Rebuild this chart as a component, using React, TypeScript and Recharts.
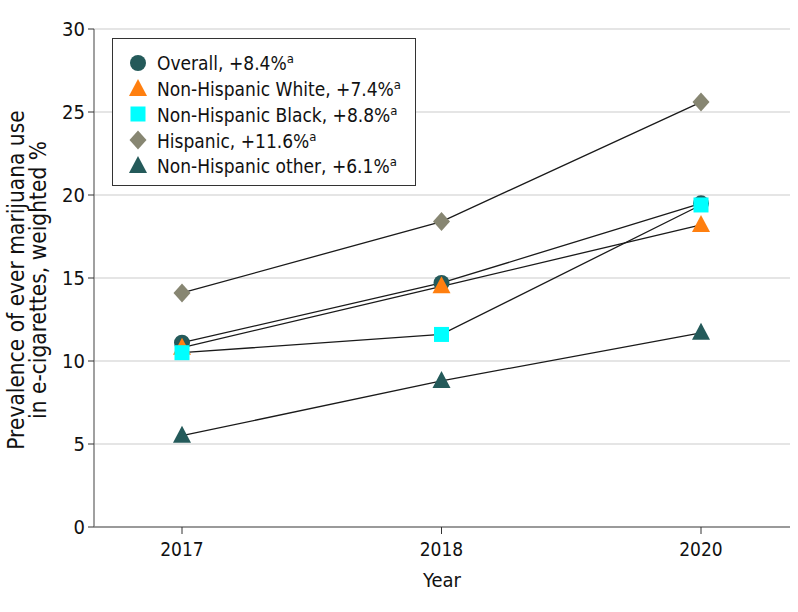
import { LineChart, Line, XAxis, YAxis, CartesianGrid } from 'recharts';

const years = ['2017', '2018', '2020'];
const overall = [11.1, 14.7, 19.5];
const white = [10.8, 14.5, 18.2];
const black = [10.5, 11.6, 19.4];
const hispanic = [14.1, 18.4, 25.6];
const other = [5.5, 8.8, 11.7];
const yTicks = [0, 5, 10, 15, 20, 25, 30];

const FONT = '"Liberation Sans Narrow", "DejaVu Sans Condensed", "Noto Sans", sans-serif';

type Shape = 'circle' | 'triangle' | 'square' | 'diamond';

const series: { key: string; name: string; change: string; color: string; shape: Shape }[] = [
  { key: 'overall', name: 'Overall', change: '8.4%', color: '#245a5a', shape: 'circle' },
  { key: 'white', name: 'Non-Hispanic White', change: '7.4%', color: '#ff7f0f', shape: 'triangle' },
  { key: 'black', name: 'Non-Hispanic Black', change: '8.8%', color: '#00ffff', shape: 'square' },
  { key: 'hispanic', name: 'Hispanic', change: '11.6%', color: '#878672', shape: 'diamond' },
  { key: 'other', name: 'Non-Hispanic other', change: '6.1%', color: '#245a5a', shape: 'triangle' },
];

const data = years.map((year, i) => ({
  year,
  overall: overall[i],
  white: white[i],
  black: black[i],
  hispanic: hispanic[i],
  other: other[i],
}));

function Marker({ cx, cy, shape, color }: { cx: number; cy: number; shape: Shape; color: string }) {
  if (shape === 'circle') return <circle cx={cx} cy={cy} r={8} fill={color} />;
  if (shape === 'square') return <rect x={cx - 7.5} y={cy - 7.5} width={15} height={15} fill={color} />;
  if (shape === 'diamond')
    return <polygon points={`${cx},${cy - 9.5} ${cx + 8.5},${cy} ${cx},${cy + 9.5} ${cx - 8.5},${cy}`} fill={color} />;
  return <polygon points={`${cx},${cy - 10} ${cx + 9},${cy + 7} ${cx - 9},${cy + 7}`} fill={color} />;
}

const makeDot = (shape: Shape, color: string) => (props: any) => {
  const { cx, cy, index } = props;
  if (cx == null || cy == null) return <g key={index} />;
  return <Marker key={index} cx={cx} cy={cy} shape={shape} color={color} />;
};

function LegendBox() {
  return (
    <div
      style={{
        position: 'absolute',
        left: 112,
        top: 38,
        border: '1.5px solid #333',
        width: 304,
        height: 148,
        boxSizing: 'border-box',
        padding: '11px 0 0 13px',
        background: '#fff',
        fontFamily: FONT,
        fontSize: 19,
        color: '#111',
      }}
    >
      {series.map((s) => (
        <div key={s.key} style={{ display: 'flex', alignItems: 'center', height: 25.8, whiteSpace: 'nowrap' }}>
          <svg width={24} height={22} style={{ marginRight: 7 }}>
            <Marker cx={12} cy={11} shape={s.shape} color={s.color} />
          </svg>
          <span>
            {s.name}, +{s.change}
            <sup style={{ fontSize: 13 }}>a</sup>
          </span>
        </div>
      ))}
    </div>
  );
}

function YLabel() {
  return (
    <text
      transform="translate(35, 280) rotate(-90)"
      textAnchor="middle"
      fontFamily={FONT}
      fontSize={22.5}
      fill="#111"
    >
      <tspan x={0} dy={-11}>Prevalence of ever marijuana use</tspan>
      <tspan x={0} dy={22}>in e-cigarettes, weighted %</tspan>
    </text>
  );
}

function XLabel() {
  return (
    <text x={442} y={587} textAnchor="middle" fontFamily={FONT} fontSize={20} fill="#111">
      Year
    </text>
  );
}

export default function App() {
  return (
    <div style={{ position: 'absolute', left: 0, top: 0, width: 798, height: 612, background: '#fff' }}>
      <LineChart width={798} height={612} data={data} margin={{ top: 29, right: 8, bottom: 0, left: 34 }}>
        <CartesianGrid vertical={false} stroke="#dcdcdc" strokeWidth={1.5} />
        <XAxis
          dataKey="year"
          type="category"
          padding={{ left: 88, right: 89 }}
          stroke="#808080"
          strokeWidth={1.5}
          tickLine={{ stroke: '#333', strokeWidth: 1 }}
          tickSize={7}
          tick={{ fill: '#111', fontSize: 19, fontFamily: FONT }}
          tickMargin={9}
          label={<XLabel />}
          height={85}
        />
        <YAxis
          domain={[0, 30]}
          ticks={yTicks}
          interval={0}
          width={60}
          stroke="#808080"
          strokeWidth={1.5}
          tickLine={{ stroke: '#333', strokeWidth: 1 }}
          tickSize={6}
          tickMargin={3}
          tick={{ fill: '#111', fontSize: 20, fontFamily: FONT }}
          label={<YLabel />}
        />
        {series.map((s) => (
          <Line
            key={s.key}
            dataKey={s.key}
            name={s.name}
            stroke="#1a1a1a"
            strokeWidth={1.3}
            dot={makeDot(s.shape, s.color)}
            activeDot={false}
            isAnimationActive={false}
          />
        ))}
      </LineChart>
      <LegendBox />
    </div>
  );
}
